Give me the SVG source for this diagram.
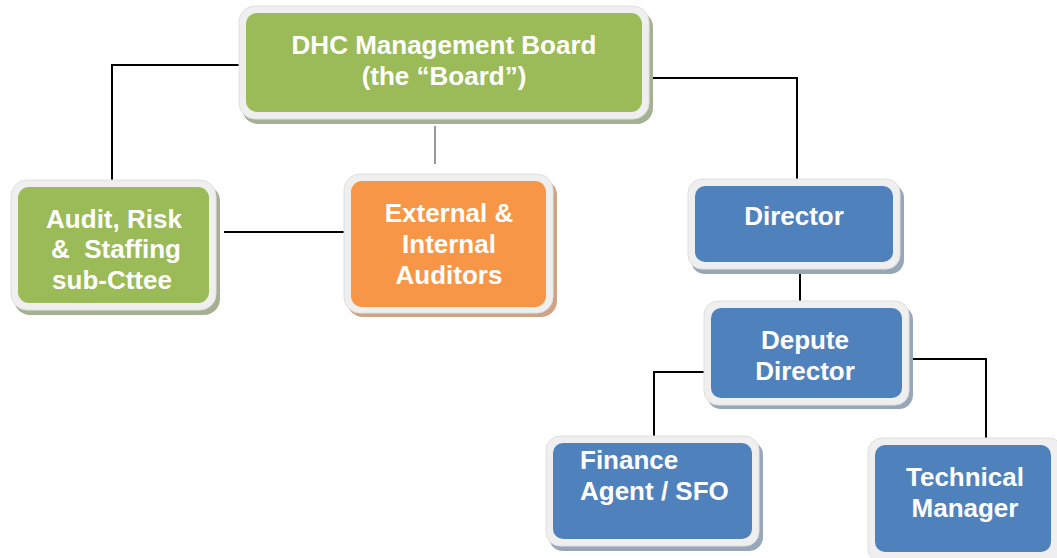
<svg xmlns="http://www.w3.org/2000/svg" width="1057" height="558" viewBox="0 0 1057 558">
<style>
.frame{fill:#efefef;stroke:#e0e0e0;stroke-width:1}
.sg{fill:#a6b092}
.so{fill:#cfa386}
.sb{fill:#98a6ba}
.g{fill:#9bbb59}
.o{fill:#f79646}
.b{fill:#4f81bd}
.t{font-family:"Liberation Sans",Arial,sans-serif;font-weight:bold;font-size:26px;fill:#ffffff;text-anchor:middle;white-space:pre}
.tl{font-family:"Liberation Sans",Arial,sans-serif;font-weight:bold;font-size:26px;fill:#ffffff}
.c{fill:none;stroke:#000;stroke-width:2}
</style>
<rect width="1057" height="558" fill="#ffffff"/>
<g id="connectors">
<polyline class="c" points="241,65 112,65 112,183"/>
<line x1="435" y1="126" x2="435" y2="164" stroke="#777" stroke-width="1.5"/>
<polyline class="c" points="647,78 797,78 797,181"/>
<line class="c" x1="224" y1="232" x2="352" y2="232"/>
<line class="c" x1="800" y1="268" x2="800" y2="305"/>
<polyline class="c" points="709,372 654,372 654,438"/>
<polyline class="c" points="906,359 986,359 986,443"/>
</g>
<g id="board">
<rect class="sg" x="242" y="11" width="411" height="113" rx="16"/>
<rect class="frame" x="239" y="6" width="410" height="113" rx="16"/>
<rect class="g" x="246" y="13" width="396" height="99" rx="11"/>
<text class="t" x="444" y="54">DHC Management Board</text>
<text class="t" x="444" y="85">(the “Board”)</text>
</g>
<g id="audit">
<rect class="sg" x="14" y="185" width="206" height="130" rx="16"/>
<rect class="frame" x="11" y="180" width="205" height="130" rx="16"/>
<rect class="g" x="18" y="187" width="191" height="116" rx="11"/>
<text class="t" x="114" y="228" xml:space="preserve">Audit, Risk</text>
<text class="t" x="116" y="258" xml:space="preserve">&amp;  Staffing</text>
<text class="t" x="112" y="289">sub-Cttee</text>
</g>
<g id="auditors">
<rect class="so" x="347" y="179" width="210" height="138" rx="16"/>
<rect class="frame" x="344" y="174" width="209" height="139" rx="16"/>
<rect class="o" x="351" y="181" width="195" height="126" rx="11"/>
<text class="t" x="449" y="222">External &amp;</text>
<text class="t" x="449" y="253">Internal</text>
<text class="t" x="449" y="284">Auditors</text>
</g>
<g id="director">
<rect class="sb" x="691" y="184" width="213" height="90" rx="14"/>
<rect class="frame" x="688" y="179" width="212" height="90" rx="14"/>
<rect class="b" x="695" y="186" width="198" height="76" rx="10"/>
<text class="t" x="794" y="225">Director</text>
</g>
<g id="depute">
<rect class="sb" x="707" y="306" width="206" height="103" rx="14"/>
<rect class="frame" x="704" y="301" width="205" height="104" rx="14"/>
<rect class="b" x="711" y="308" width="191" height="90" rx="10"/>
<text class="t" x="805" y="349">Depute</text>
<text class="t" x="805" y="380">Director</text>
</g>
<g id="finance">
<rect class="sb" x="549" y="441" width="214" height="110" rx="14"/>
<rect class="frame" x="546" y="436" width="213" height="110" rx="14"/>
<rect class="b" x="553" y="443" width="199" height="96" rx="10"/>
<text class="tl" x="580" y="469">Finance</text>
<text class="tl" x="580" y="500">Agent / SFO</text>
</g>
<g id="technical">
<rect class="sb" x="871" y="443" width="190" height="120" rx="14"/>
<rect class="frame" x="868" y="438" width="195" height="125" rx="14"/>
<rect class="b" x="875" y="445" width="176" height="107" rx="10"/>
<text class="t" x="965" y="486">Technical</text>
<text class="t" x="965" y="517">Manager</text>
</g>
</svg>
